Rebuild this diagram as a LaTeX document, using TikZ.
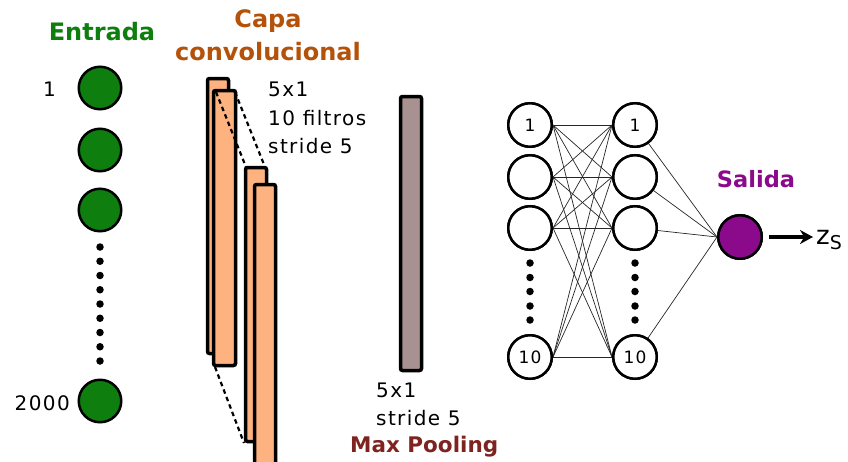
\documentclass[tikz,border=0pt]{standalone}
\usepackage{fontspec}
\setmainfont{DejaVu Sans}
\newfontfamily\regfont{DejaVu Sans}[LetterSpace=7]
\usetikzlibrary{arrows.meta}
\definecolor{ingreen}{HTML}{0E7E0E}
\definecolor{capacol}{HTML}{B4520A}
\definecolor{convfill}{HTML}{FDB27F}
\definecolor{poolfill}{HTML}{A89191}
\definecolor{poolcol}{HTML}{7E2320}
\definecolor{outcol}{HTML}{8B0A8B}
\tikzset{
  incirc/.style={circle,draw=black,line width=2.5pt,fill=ingreen,minimum size=42.5pt,inner sep=0pt},
  nncirc/.style={circle,draw=black,line width=2.5pt,fill=white,minimum size=43.5pt,inner sep=0pt,font=\regfont\fontsize{17}{19}\selectfont},
  outcirc/.style={circle,draw=black,line width=2.5pt,fill=outcol,minimum size=43.5pt,inner sep=0pt},
  regtxt/.style={inner sep=0pt,anchor=base west,font=\regfont\fontsize{20}{24}\selectfont},
  titletxt/.style={inner sep=0pt,anchor=base,font=\bfseries\fontsize{24}{28}\selectfont},
  convbar/.style={draw=black,line width=3.5pt,fill=convfill,rounded corners=2pt},
  poolbar/.style={draw=black,line width=3.5pt,fill=poolfill,rounded corners=2pt},
  convdash/.style={line width=2.2pt,dash pattern=on 4.5pt off 3.5pt},
  wire/.style={line width=0.7pt,black!85},
  dotdot/.style={circle,fill=black,inner sep=0pt,minimum size=7.5pt}
}
\begin{document}
\begin{tikzpicture}[x=1pt,y=-1pt]
\useasboundingbox (0,0) rectangle (848,461);
% Titles
\node[titletxt,text=ingreen] (tEntrada) at (102,40) {Entrada};
\node[titletxt,text=capacol] (tCapa) at (268,27) {Capa};
\node[titletxt,text=capacol] (tConv) at (268,60) {convolucional};
% Input column
\node[incirc] (i1) at (100,88) {};
\node[incirc] (i2) at (100,150) {};
\node[incirc] (i3) at (100,210) {};
\node[incirc] (i4) at (100,401) {};
\foreach \k in {0,...,8} {
  \node[dotdot] (id\k) at (100,{247+\k*14.25}) {};
}
\node[regtxt,anchor=base east] (l1) at (56,96) {1};
\node[regtxt,anchor=base east] (l2000) at (70,410) {2000};
% Convolutional layer
\draw[convbar] (207.5,78.5) rectangle (228.5,353.5);
\draw[convbar] (213.5,90.5) rectangle (235.5,365.5);
\coordinate (bTL) at (216,92);
\coordinate (bTR) at (235,92);
\coordinate (bBL) at (215,367);
\coordinate (cTL) at (246,167);
\coordinate (cTR) at (265,167);
\coordinate (cBL) at (244,443);
\draw[convdash] (bTL) -- (cTL);
\draw[convdash] (bTR) -- (cTR);
\draw[convdash] (bBL) -- (cBL);
\draw[convbar] (245.5,167.5) rectangle (266.5,441.5);
\draw[convbar] (254.5,184.5) rectangle (275.5,472);
\node[regtxt] (c1) at (268,96) {5x1};
\node[regtxt] (c2) at (268,125) {10 filtros};
\node[regtxt] (c3) at (268,153) {stride 5};
% Max pooling
\draw[poolbar] (400.5,96.5) rectangle (421.5,370.5);
\node[regtxt] (p1) at (376,397) {5x1};
\node[regtxt] (p2) at (376,425) {stride 5};
\node[inner sep=0pt,anchor=base west,font=\bfseries\fontsize{21.5}{24}\selectfont,text=poolcol] (tPool) at (350,452) {Max Pooling};
% Dense layers
\foreach \n/\y/\t in {1/125/1,2/177/,3/228/,4/357/10} {
  \node[nncirc] (a\n) at (530,\y) {\t};
  \node[nncirc] (b\n) at (635,\y) {\t};
}
\foreach \k/\y in {0/263,1/277.5,2/291.5,3/306,4/320} {
  \node[dotdot] (ad\k) at (530,\y) {};
  \node[dotdot] (bd\k) at (635,\y) {};
}
\node[outcirc] (out) at (740,237) {};
\foreach \i in {1,...,4} {
  \foreach \j in {1,...,4} {
    \draw[wire] (a\i.east) -- (b\j.west);
  }
  \draw[wire] (b\i) -- (out.west);
}
% redraw circles on top of wires
\foreach \n/\y/\t in {1/125/1,2/177/,3/228/,4/357/10} {
  \node[nncirc] at (530,\y) {\t};
  \node[nncirc] at (635,\y) {\t};
}
\node[outcirc] at (740,237) {};
\node[titletxt,text=outcol,font=\bfseries\fontsize{22.5}{26}\selectfont] (tSalida) at (756,187) {Salida};
\coordinate (zs) at (813,237);
\draw[line width=4.5pt,-{Stealth[length=13pt,width=14pt]}] (out.east) ++(6,0) -- (zs);
\node[inner sep=0pt,anchor=base west,font=\regfont\fontsize{26}{28}\selectfont] (zlabel) at (816,244) {z\raisebox{-5pt}{\fontsize{19}{20}\selectfont S}};
\end{tikzpicture}
\end{document}
